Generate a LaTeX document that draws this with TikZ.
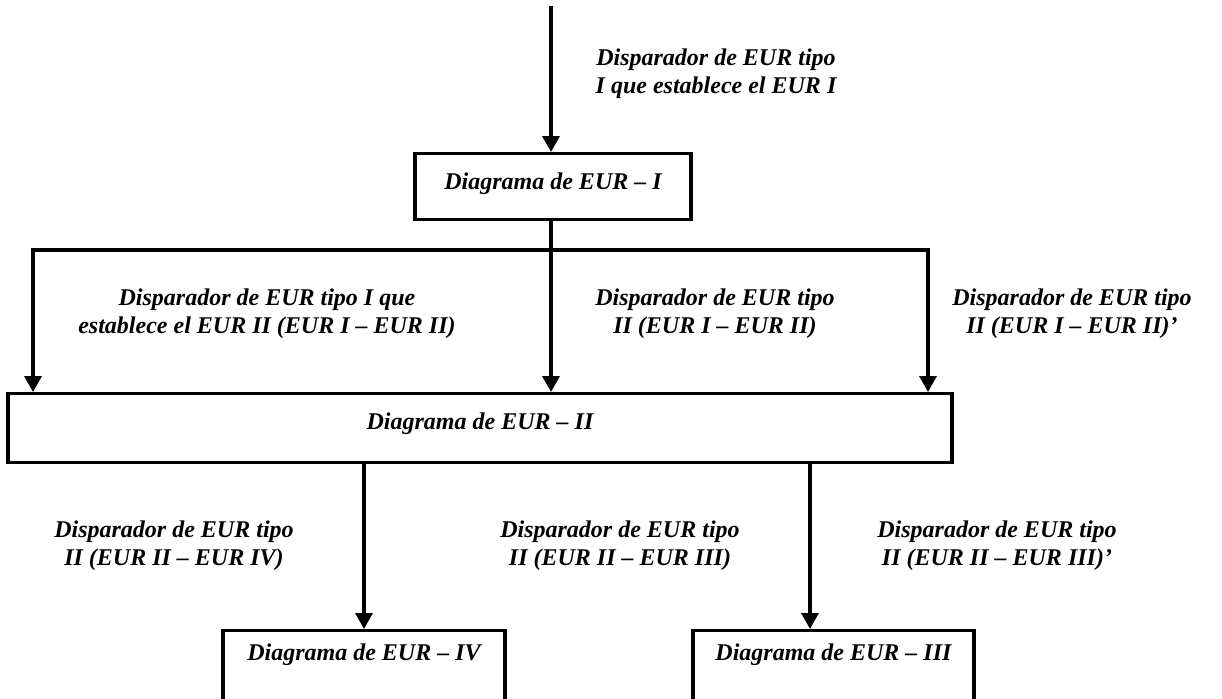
\documentclass[tikz,border=0pt]{standalone}
\usepackage{fontspec}
\setmainfont{Liberation Serif}
\usetikzlibrary{arrows.meta}

\begin{document}
\begin{tikzpicture}[
  x=0.5pt, y=-0.5pt,
  font=\bfseries\itshape\fontsize{12}{14.2}\selectfont,
  >={Triangle[length=8pt, width=8.5pt]},
  eurbox/.style={draw, line width=1.7pt, inner xsep=0pt, inner ysep=0pt, anchor=north},
  flow/.style={->, line width=1.7pt},
  lbl/.style={align=center, inner sep=0pt}
]
\useasboundingbox (0,0) rectangle (1222,698);
\clip (0,0) rectangle (1222,698);
\node[eurbox, minimum width=138pt, text height=18pt, text depth=15pt] (eur1) at (553,152) {Diagrama de EUR – I};
\node[eurbox, minimum width=472pt, text height=18pt, text depth=16.5pt] (eur2) at (480,392) {Diagrama de EUR – II};
\node[eurbox, minimum width=141pt, text height=15pt, text depth=25pt] (eur4) at (364,629) {Diagrama de EUR – IV};
\node[eurbox, minimum width=140.5pt, text height=15pt, text depth=25pt] (eur3) at (833.5,629) {Diagrama de EUR – III};
\coordinate (start) at (551,6);
\coordinate (splitL) at (33,250);
\coordinate (splitR) at (928,250);
\coordinate (in3) at ([xshift=-11.75pt]eur3.north);
\draw[flow] (start) -- (start |- eur1.north);
\draw[flow] (eur1.south -| start) -- (start |- eur2.north);
\draw[flow, <->] (splitL |- eur2.north) -- (splitL) -- (splitR) -- (splitR |- eur2.north);
\draw[flow] (eur2.south -| eur4.north) -- (eur4.north);
\draw[flow] (eur2.south -| in3) -- (in3);
\node[lbl] (t0) at (716,74) {Disparador de EUR tipo\\I que establece el EUR I};
\node[lbl] (t1) at (267,313.5) {Disparador de EUR tipo I que\\establece el EUR II (EUR I – EUR II)};
\node[lbl] (t2) at (715,313.5) {Disparador de EUR tipo\\II (EUR I – EUR II)};
\node[lbl] (t3) at (1072,313.5) {Disparador de EUR tipo\\II (EUR I – EUR II)’};
\node[lbl] (t4) at (174,546) {Disparador de EUR tipo\\II (EUR II – EUR IV)};
\node[lbl] (t5) at (620,546) {Disparador de EUR tipo\\II (EUR II – EUR III)};
\node[lbl] (t6) at (997,546) {Disparador de EUR tipo\\II (EUR II – EUR III)’};
\end{tikzpicture}
\end{document}
